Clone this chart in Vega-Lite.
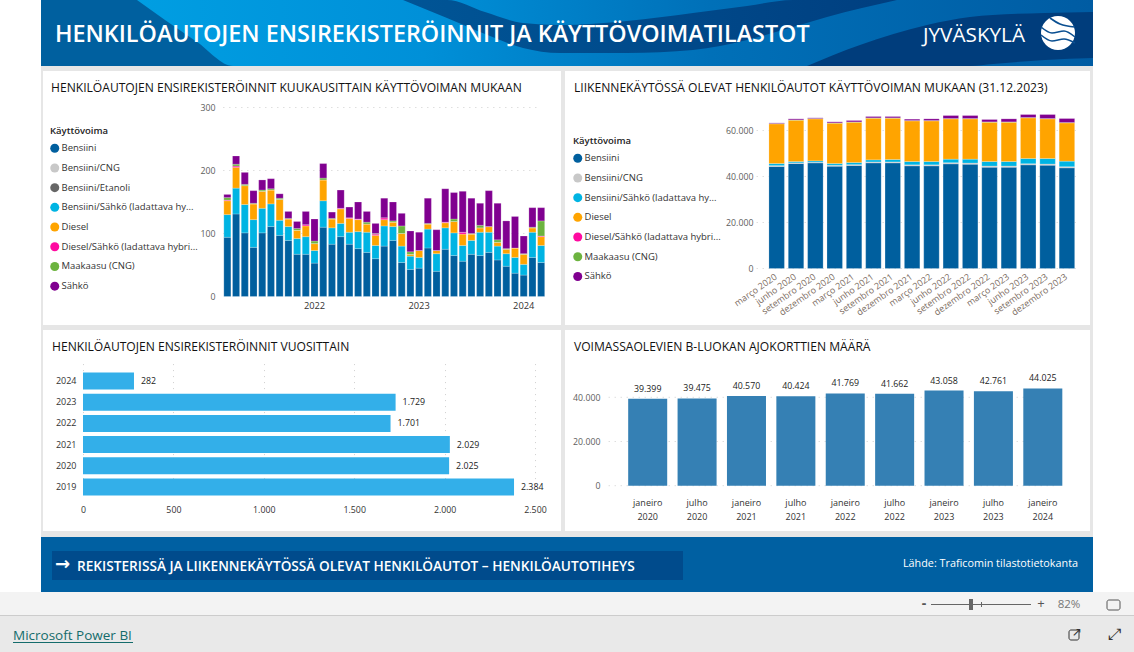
{
"$schema":"https://vega.github.io/schema/vega-lite/v6.json",
"background":"#e6e6e6","padding":0,"bounds":"full","spacing":0,
"config":{"font":"Open Sans","view":{"stroke":null},"axis":{"domain":false,"ticks":false,"title":null,"labelFont":"Open Sans","labelFlush":false,"gridColor":"#cfcfcf","gridDash":[1,5],"gridWidth":1},"legend":{"labelFont":"Open Sans","titleFont":"Open Sans"},"title":{"font":"Open Sans"}},
"datasets":{
"monthly":[
{"m":"2021-03","b":94,"h":36,"d":22,"dh":1,"mk":4,"s":5},
{"m":"2021-04","b":131,"h":41,"d":33,"dh":2,"mk":3,"s":13},
{"m":"2021-05","b":101,"h":45,"d":30,"dh":0,"mk":2,"s":19},
{"m":"2021-06","b":78,"h":44,"d":25,"dh":0,"mk":1,"s":20},
{"m":"2021-07","b":101,"h":39,"d":27,"dh":0,"mk":2,"s":16},
{"m":"2021-08","b":111,"h":36,"d":22,"dh":0,"mk":2,"s":16},
{"m":"2021-09","b":97,"h":24,"d":33,"dh":0,"mk":2,"s":7},
{"m":"2021-10","b":89,"h":22,"d":12,"dh":0,"mk":1,"s":11},
{"m":"2021-11","b":67,"h":25,"d":13,"dh":0,"mk":3,"s":11},
{"m":"2021-12","b":67,"h":28,"d":17,"dh":2,"mk":0,"s":21},
{"m":"2022-01","b":53,"h":20,"d":11,"dh":0,"mk":4,"s":35},
{"m":"2022-02","b":110,"h":42,"d":33,"dh":0,"mk":3,"s":23},
{"m":"2022-03","b":83,"h":26,"d":14,"dh":0,"mk":1,"s":10},
{"m":"2022-04","b":95,"h":21,"d":23,"dh":1,"mk":0,"s":29},
{"m":"2022-05","b":83,"h":19,"d":22,"dh":1,"mk":0,"s":17},
{"m":"2022-06","b":76,"h":27,"d":19,"dh":1,"mk":0,"s":27},
{"m":"2022-07","b":70,"h":32,"d":13,"dh":0,"mk":3,"s":17},
{"m":"2022-08","b":60,"h":21,"d":16,"dh":2,"mk":1,"s":16},
{"m":"2022-09","b":80,"h":32,"d":10,"dh":3,"mk":0,"s":31},
{"m":"2022-10","b":89,"h":22,"d":7,"dh":0,"mk":2,"s":30},
{"m":"2022-11","b":54,"h":26,"d":20,"dh":0,"mk":12,"s":20},
{"m":"2022-12","b":43,"h":21,"d":3,"dh":0,"mk":4,"s":33},
{"m":"2023-01","b":45,"h":17,"d":11,"dh":0,"mk":0,"s":29},
{"m":"2023-02","b":77,"h":30,"d":8,"dh":0,"mk":1,"s":40},
{"m":"2023-03","b":40,"h":28,"d":5,"dh":0,"mk":0,"s":33},
{"m":"2023-04","b":75,"h":34,"d":8,"dh":1,"mk":0,"s":53},
{"m":"2023-05","b":65,"h":36,"d":18,"dh":0,"mk":4,"s":42},
{"m":"2023-06","b":56,"h":25,"d":18,"dh":3,"mk":0,"s":65},
{"m":"2023-07","b":67,"h":22,"d":10,"dh":0,"mk":1,"s":56},
{"m":"2023-08","b":65,"h":37,"d":7,"dh":0,"mk":4,"s":35},
{"m":"2023-09","b":70,"h":32,"d":9,"dh":0,"mk":0,"s":57},
{"m":"2023-10","b":58,"h":22,"d":6,"dh":0,"mk":4,"s":58},
{"m":"2023-11","b":48,"h":20,"d":7,"dh":0,"mk":1,"s":44},
{"m":"2023-12","b":37,"h":25,"d":15,"dh":0,"mk":0,"s":50},
{"m":"2024-01","b":34,"h":17,"d":16,"dh":0,"mk":1,"s":28},
{"m":"2024-02","b":62,"h":40,"d":7,"dh":0,"mk":1,"s":31},
{"m":"2024-03","b":54,"h":27,"d":14,"dh":1,"mk":24,"s":21}
],
"traffic":[
{"q":"março 2020","b":44340,"cng":400,"h":900,"d":17260,"mk":150,"s":250},
{"q":"junho 2020","b":45640,"cng":300,"h":560,"d":17980,"mk":150,"s":430},
{"q":"setembro 2020","b":45930,"cng":300,"h":570,"d":18260,"mk":150,"s":290},
{"q":"dezembro 2020","b":44480,"cng":400,"h":760,"d":17540,"mk":150,"s":430},
{"q":"março 2021","b":44770,"cng":400,"h":910,"d":17520,"mk":150,"s":590},
{"q":"junho 2021","b":45930,"cng":400,"h":910,"d":18110,"mk":150,"s":570},
{"q":"setembro 2021","b":45930,"cng":400,"h":1050,"d":17970,"mk":150,"s":570},
{"q":"dezembro 2021","b":44630,"cng":450,"h":1430,"d":17680,"mk":150,"s":580},
{"q":"março 2022","b":44630,"cng":450,"h":1430,"d":17680,"mk":150,"s":720},
{"q":"junho 2022","b":45500,"cng":500,"h":1530,"d":17530,"mk":150,"s":1290},
{"q":"setembro 2022","b":45350,"cng":500,"h":1680,"d":17530,"mk":150,"s":1290},
{"q":"dezembro 2022","b":44050,"cng":500,"h":1960,"d":17090,"mk":150,"s":1020},
{"q":"março 2023","b":44050,"cng":500,"h":1960,"d":17090,"mk":150,"s":1310},
{"q":"junho 2023","b":45060,"cng":500,"h":2260,"d":17680,"mk":150,"s":1290},
{"q":"setembro 2023","b":44920,"cng":500,"h":2400,"d":17240,"mk":150,"s":1730},
{"q":"dezembro 2023","b":43760,"cng":500,"h":2400,"d":16660,"mk":150,"s":1730}
],
"yearly":[{"y":"2024","n":282},{"y":"2023","n":1729},{"y":"2022","n":1701},{"y":"2021","n":2029},{"y":"2020","n":2025},{"y":"2019","n":2384}],
"licences":[{"p":"janeiro|2020","n":39399},{"p":"julho|2020","n":39475},{"p":"janeiro|2021","n":40570},{"p":"julho|2021","n":40424},{"p":"janeiro|2022","n":41769},{"p":"julho|2022","n":41662},{"p":"janeiro|2023","n":43058},{"p":"julho|2023","n":42761},{"p":"janeiro|2024","n":44025}],
"waveBright":[{"a":137,"t":0,"u":0},{"a":165,"t":0,"u":20},{"a":197,"t":0,"u":42},{"a":233,"t":0,"u":66},{"a":1093,"t":0,"u":66}],
"waveDark":[{"a":403,"t":0,"u":0},{"a":447,"t":0,"u":18},{"a":485,"t":12,"u":34},{"a":523,"t":23,"u":48},{"a":560,"t":25,"u":53},{"a":627,"t":21,"u":53},{"a":693,"t":13,"u":50},{"a":747,"t":6,"u":40},{"a":793,"t":0,"u":27},{"a":827,"t":0,"u":17},{"a":897,"t":0,"u":0}],
"waveCorner":[{"a":807,"t":66,"u":66},{"a":860,"t":45,"u":66},{"a":927,"t":25,"u":66},{"a":970,"t":17,"u":66},{"a":993,"t":15,"u":64},{"a":1045,"t":13,"u":60},{"a":1093,"t":12,"u":58}],
"logoLines":[{"a":1041,"v":27,"l":"1"},{"a":1052,"v":33,"l":"1"},{"a":1064,"v":31,"l":"1"},{"a":1075,"v":37,"l":"1"},{"a":1041,"v":35,"l":"2"},{"a":1052,"v":41,"l":"2"},{"a":1064,"v":39,"l":"2"},{"a":1075,"v":43,"l":"2"},{"a":1050,"v":18,"l":"3"},{"a":1060,"v":24,"l":"3"},{"a":1075,"v":27,"l":"3"}]
},
"vconcat":[
{"hconcat":[
 {"width":41,"height":592,"data":{"values":[{}]},"mark":{"type":"rect","color":"#ffffff"}},
 {"spacing":0,"bounds":"full","vconcat":[
  {"width":1052,"height":66,"view":{"fill":"#00609f"},
   "layer":[
    {"data":{"name":"waveBright"},"mark":{"type":"area","interpolate":"monotone","color":{"gradient":"linear","x1":0,"x2":1,"y1":0,"y2":0,"stops":[{"offset":0,"color":"#009ee2"},{"offset":0.3,"color":"#0090d8"},{"offset":0.6,"color":"#0070b8"},{"offset":1,"color":"#005ca3"}]}},
     "encoding":{"x":{"field":"a","type":"quantitative","axis":null,"scale":{"domain":[41,1093],"nice":false,"zero":false}},"y":{"field":"t","type":"quantitative","axis":null,"scale":{"domain":[0,66],"range":[0,66],"nice":false,"zero":false}},"y2":{"field":"u"}}},
    {"data":{"name":"waveDark"},"mark":{"type":"area","interpolate":"monotone","color":{"gradient":"linear","x1":0,"x2":1,"y1":0,"y2":0,"stops":[{"offset":0,"color":"#005596"},{"offset":1,"color":"#003f80"}]}},
     "encoding":{"x":{"field":"a","type":"quantitative","axis":null},"y":{"field":"t","type":"quantitative","axis":null},"y2":{"field":"u"}}},
    {"data":{"name":"waveCorner"},"mark":{"type":"area","interpolate":"monotone","color":"#003d7c"},
     "encoding":{"x":{"field":"a","type":"quantitative","axis":null},"y":{"field":"t","type":"quantitative","axis":null},"y2":{"field":"u"}}},
    {"data":{"values":[{}]},"mark":{"type":"text","text":"HENKILÖAUTOJEN ENSIREKISTERÖINNIT JA KÄYTTÖVOIMATILASTOT","align":"left","baseline":"middle","color":"#ffffff","fontSize":23.35,"fontWeight":600},
     "encoding":{"x":{"datum":55,"type":"quantitative","axis":null},"y":{"datum":35,"type":"quantitative","axis":null}}},
    {"data":{"values":[{}]},"mark":{"type":"text","text":"JYVÄSKYLÄ","align":"left","baseline":"middle","color":"#ffffff","fontSize":20.7,"fontWeight":400},
     "encoding":{"x":{"datum":923,"type":"quantitative","axis":null},"y":{"datum":36,"type":"quantitative","axis":null}}},
    {"data":{"values":[{}]},"mark":{"type":"point","filled":true,"shape":"circle","size":1156,"color":"#ffffff","opacity":1},
     "encoding":{"x":{"datum":1058,"type":"quantitative","axis":null},"y":{"datum":33,"type":"quantitative","axis":null}}},
    {"data":{"name":"logoLines"},"mark":{"type":"line","interpolate":"monotone","color":"#0a4f91","strokeWidth":1.6},
     "encoding":{"x":{"field":"a","type":"quantitative","axis":null},"y":{"field":"v","type":"quantitative","axis":null},"detail":{"field":"l"}}}
   ]},
  {"width":10,"height":5,"data":{"values":[{}]},"mark":{"type":"rect","color":"#e6e6e6"}},
  {"spacing":0,"bounds":"flush","resolve":{"scale":{"color":"independent"},"legend":{"color":"independent"}},"hconcat":[
   {"width":2,"height":254,"data":{"values":[{}]},"mark":{"type":"rect","color":"#e6e6e6"}},
   {"width":518,"height":254,"view":{"fill":"#ffffff"},
    "title":{"text":"HENKILÖAUTOJEN ENSIREKISTERÖINNIT KUUKAUSITTAIN KÄYTTÖVOIMAN MUKAAN","anchor":"start","frame":"group","offset":-23,"dx":8,"fontSize":12.1,"fontWeight":400,"color":"#111111"},
    "layer":[
     {"data":{"values":[{"v":100},{"v":200},{"v":300}]},"mark":{"type":"rule","color":"#cfcfcf","strokeDash":[1,5],"strokeWidth":1,"xOffset":-4,"x2Offset":0},
      "encoding":{"y":{"field":"v","type":"quantitative","title":null},"x":{"datum":"2021-03","type":"nominal","title":null},"x2":{"datum":"2024-03"}}},
     {"data":{"name":"monthly"},
      "transform":[
       {"fold":["b","cng","et","h","d","dh","mk","s"],"as":["k","n"]},
       {"filter":"isValid(datum.n)"},
       {"calculate":"indexof(['b','cng','et','h','d','dh','mk','s'],datum.k)","as":"ord"},
       {"calculate":"['Bensiini','Bensiini/CNG','Bensiini/Etanoli','Bensiini/Sähkö (ladattava hybridi)','Diesel','Diesel/Sähkö (ladattava hybridi)','Maakaasu (CNG)','Sähkö'][datum.ord]","as":"fuel"}],
      "mark":{"type":"bar","stroke":"#ffffff","strokeWidth":0.5,"strokeOpacity":0.4},
      "encoding":{
       "x":{"field":"m","type":"nominal","title":null,"scale":{"type":"band","range":[180,502.5],"paddingInner":0.19,"paddingOuter":0.095},"axis":{"values":["2022-01","2023-01","2024-01"],"labelExpr":"slice(datum.value,0,4)","labelAngle":0,"labelAlign":"center","labelBaseline":"top","offset":-28.5,"labelPadding":5,"labelFontSize":9.3,"labelColor":"#333333","grid":false}},
       "y":{"field":"n","type":"quantitative","title":null,"stack":"zero","scale":{"domain":[0,300],"range":[225.5,36.5],"nice":false},"axis":{"values":[0,100,200,300],"offset":-180,"labelPadding":8,"labelFontSize":8.8,"labelColor":"#605e5c","grid":false}},
       "color":{"field":"fuel","type":"nominal","scale":{"domain":["Bensiini","Bensiini/CNG","Bensiini/Etanoli","Bensiini/Sähkö (ladattava hybridi)","Diesel","Diesel/Sähkö (ladattava hybridi)","Maakaasu (CNG)","Sähkö"],"range":["#005f9e","#c8c8c8","#666666","#00b4e3","#ffa400","#ff0aa0","#6cb33f","#800090"]},
         "legend":{"orient":"none","legendX":7,"legendY":55,"title":"Käyttövoima","symbolType":"circle","symbolSize":81,"symbolStrokeWidth":0,"labelLimit":200,"labelExpr":"indexof(datum.label,'Bensiini/S')==0?'Bensiini/Sähkö (ladattava hy...':indexof(datum.label,'Diesel/S')==0?'Diesel/Sähkö (ladattava hybri...':datum.label","labelOffset":2,"labelFontSize":9.5,"titleFontSize":9.5,"titleFontWeight":600,"titleColor":"#222222","labelColor":"#333333","rowPadding":8.7,"titlePadding":8}},
       "order":{"field":"ord","type":"quantitative","sort":"ascending"}
      }}
    ]},
   {"width":4,"height":254,"data":{"values":[{}]},"mark":{"type":"rect","color":"#e6e6e6"}},
   {"width":525,"height":254,"view":{"fill":"#ffffff"},
    "title":{"text":"LIIKENNEKÄYTÖSSÄ OLEVAT HENKILÖAUTOT KÄYTTÖVOIMAN MUKAAN (31.12.2023)","anchor":"start","frame":"group","offset":-23,"dx":9,"fontSize":12.1,"fontWeight":400,"color":"#111111"},
    "layer":[
     {"data":{"values":[{"v":0},{"v":20000},{"v":40000},{"v":60000}]},"mark":{"type":"rule","color":"#cfcfcf","strokeDash":[1,5],"strokeWidth":1,"xOffset":-20,"x2Offset":10},
      "encoding":{"y":{"field":"v","type":"quantitative","title":null},"x":{"datum":"março 2020","type":"nominal","title":null},"x2":{"datum":"dezembro 2023"}}},
     {"data":{"name":"traffic"},
      "transform":[
       {"fold":["b","cng","h","d","dh","mk","s"],"as":["k","n"]},
       {"filter":"isValid(datum.n)"},
       {"calculate":"indexof(['b','cng','h','d','dh','mk','s'],datum.k)","as":"ord"},
       {"calculate":"['Bensiini','Bensiini/CNG','Bensiini/Sähkö (ladattava hybridi)','Diesel','Diesel/Sähkö (ladattava hybridi)','Maakaasu (CNG)','Sähkö'][datum.ord]","as":"fuel"}],
      "mark":{"type":"bar","stroke":"#ffffff","strokeWidth":0.5,"strokeOpacity":0.4},
      "encoding":{
       "x":{"field":"q","type":"nominal","title":null,"scale":{"type":"band","domain":["março 2020","junho 2020","setembro 2020","dezembro 2020","março 2021","junho 2021","setembro 2021","dezembro 2021","março 2022","junho 2022","setembro 2022","dezembro 2022","março 2023","junho 2023","setembro 2023","dezembro 2023"],"range":[202,511.6],"paddingInner":0.2,"paddingOuter":0.1},"axis":{"labelAngle":-35,"labelAlign":"right","labelBaseline":"top","labelOffset":-3,"offset":-56,"labelPadding":3,"labelFontSize":9,"labelColor":"#7a6a60","labelOverlap":false,"grid":false}},
       "y":{"field":"n","type":"quantitative","title":null,"stack":"zero","scale":{"domain":[0,70000],"range":[197.5,36.5],"nice":false},"axis":{"values":[0,20000,40000,60000],"labelExpr":"replace(format(datum.value,','),',','.')","offset":-202,"labelPadding":14,"labelFontSize":8.8,"labelColor":"#605e5c","grid":false}},
       "color":{"field":"fuel","type":"nominal","scale":{"domain":["Bensiini","Bensiini/CNG","Bensiini/Sähkö (ladattava hybridi)","Diesel","Diesel/Sähkö (ladattava hybridi)","Maakaasu (CNG)","Sähkö"],"range":["#005f9e","#c8c8c8","#00b4e3","#ffa400","#ff0aa0","#6cb33f","#800090"]},
         "legend":{"orient":"none","legendX":8,"legendY":65,"title":"Käyttövoima","symbolType":"circle","symbolSize":81,"symbolStrokeWidth":0,"labelLimit":200,"labelExpr":"indexof(datum.label,'Bensiini/S')==0?'Bensiini/Sähkö (ladattava hy...':indexof(datum.label,'Diesel/S')==0?'Diesel/Sähkö (ladattava hybri...':datum.label","labelOffset":2,"labelFontSize":9.5,"titleFontSize":9.5,"titleFontWeight":600,"titleColor":"#222222","labelColor":"#333333","rowPadding":8.7,"titlePadding":8}},
       "order":{"field":"ord","type":"quantitative","sort":"ascending"}
      }}
    ]},
   {"width":3,"height":254,"data":{"values":[{}]},"mark":{"type":"rect","color":"#e6e6e6"}}
  ]},
  {"width":10,"height":5,"data":{"values":[{}]},"mark":{"type":"rect","color":"#e6e6e6"}},
  {"spacing":0,"bounds":"flush","hconcat":[
   {"width":2,"height":201,"data":{"values":[{}]},"mark":{"type":"rect","color":"#e6e6e6"}},
   {"width":518,"height":201,"view":{"fill":"#ffffff"},
    "title":{"text":"HENKILÖAUTOJEN ENSIREKISTERÖINNIT VUOSITTAIN","anchor":"start","frame":"group","offset":-23,"dx":9,"fontSize":12.1,"fontWeight":400,"color":"#111111"},
    "data":{"name":"yearly"},
    "transform":[{"calculate":"replace(format(datum.n,','),',','.')","as":"lab"}],
    "encoding":{
     "y":{"field":"y","type":"nominal","sort":null,"scale":{"type":"band","range":[40.4,167.6],"paddingInner":0.2,"paddingOuter":0.1},"axis":{"offset":-40,"labelPadding":7,"labelFontSize":9,"labelColor":"#333333","grid":false}},
     "x":{"field":"n","type":"quantitative","scale":{"domain":[0,2500],"range":[40,492],"nice":false},"axis":{"values":[0,500,1000,1500,2000,2500],"labelExpr":"replace(format(datum.value,','),',','.')","offset":-31,"labelPadding":5,"labelFontSize":8.8,"labelColor":"#333333","grid":true}}
    },
    "layer":[
     {"mark":{"type":"bar","color":"#33afe9"}},
     {"mark":{"type":"text","align":"left","baseline":"middle","dx":7,"fontSize":8.8,"color":"#222222"},"encoding":{"text":{"field":"lab"}}}
    ]},
   {"width":4,"height":201,"data":{"values":[{}]},"mark":{"type":"rect","color":"#e6e6e6"}},
   {"width":525,"height":201,"view":{"fill":"#ffffff"},
    "title":{"text":"VOIMASSAOLEVIEN B-LUOKAN AJOKORTTIEN MÄÄRÄ","anchor":"start","frame":"group","offset":-23,"dx":9,"fontSize":12.1,"fontWeight":400,"color":"#111111"},
    "layer":[
     {"data":{"values":[{"v":0},{"v":20000},{"v":40000}]},"mark":{"type":"rule","color":"#cfcfcf","strokeDash":[1,5],"strokeWidth":1,"xOffset":-39,"x2Offset":13},
      "encoding":{"y":{"field":"v","type":"quantitative","title":null},"x":{"datum":"janeiro|2020","type":"nominal","title":null},"x2":{"datum":"janeiro|2024"}}},
     {"data":{"name":"licences"},"mark":{"type":"bar","color":"#3580b4"},
      "encoding":{
       "x":{"field":"p","type":"nominal","title":null,"scale":{"type":"band","domain":["janeiro|2020","julho|2020","janeiro|2021","julho|2021","janeiro|2022","julho|2022","janeiro|2023","julho|2023","janeiro|2024"],"range":[58,502.5],"paddingInner":0.21,"paddingOuter":0.105},"axis":{"labelAngle":0,"labelAlign":"center","labelBaseline":"top","labelExpr":"split(datum.value,'|')","offset":-45.3,"labelPadding":13,"labelFontSize":9,"labelLineHeight":13.5,"labelColor":"#333333","grid":false}},
       "y":{"field":"n","type":"quantitative","title":null,"scale":{"domain":[0,50000],"range":[155.7,45.2],"nice":false},"axis":{"values":[0,20000,40000],"labelExpr":"replace(format(datum.value,','),',','.')","offset":-43,"labelPadding":8,"labelFontSize":8.8,"labelColor":"#605e5c","grid":false}}
      }},
     {"data":{"name":"licences"},"transform":[{"calculate":"replace(format(datum.n,','),',','.')","as":"lab"}],
      "mark":{"type":"text","baseline":"bottom","dy":-5,"fontSize":8.8,"color":"#222222"},
      "encoding":{"x":{"field":"p","type":"nominal","title":null},"y":{"field":"n","type":"quantitative","title":null},"text":{"field":"lab"}}}
    ]},
   {"width":3,"height":201,"data":{"values":[{}]},"mark":{"type":"rect","color":"#e6e6e6"}}
  ]},
  {"width":10,"height":6,"data":{"values":[{}]},"mark":{"type":"rect","color":"#e6e6e6"}},
  {"width":1052,"height":55,"view":{"fill":"#0060a2"},
   "data":{"values":[{}]},
   "layer":[
    {"mark":{"type":"rect","color":"#004b8c"},
     "encoding":{"x":{"datum":52,"type":"quantitative","axis":null,"scale":{"domain":[41,1093],"nice":false,"zero":false}},"x2":{"datum":683},"y":{"datum":551,"type":"quantitative","axis":null,"scale":{"domain":[537,592],"range":[0,55],"nice":false,"zero":false}},"y2":{"datum":580}}},
    {"mark":{"type":"text","text":"→","align":"left","baseline":"middle","color":"#ffffff","fontSize":18,"fontWeight":700,"font":"DejaVu Sans"},
     "encoding":{"x":{"datum":55,"type":"quantitative","axis":null},"y":{"datum":565,"type":"quantitative","axis":null}}},
    {"mark":{"type":"text","text":"REKISTERISSÄ JA LIIKENNEKÄYTÖSSÄ OLEVAT HENKILÖAUTOT – HENKILÖAUTOTIHEYS","align":"left","baseline":"middle","color":"#ffffff","fontSize":13.65,"fontWeight":600},
     "encoding":{"x":{"datum":77,"type":"quantitative","axis":null},"y":{"datum":567,"type":"quantitative","axis":null}}},
    {"mark":{"type":"text","text":"Lähde: Traficomin tilastotietokanta","align":"right","baseline":"middle","color":"#ffffff","fontSize":10.8},
     "encoding":{"x":{"datum":1078,"type":"quantitative","axis":null},"y":{"datum":564,"type":"quantitative","axis":null}}}
   ]}
 ]},
 {"width":41,"height":592,"data":{"values":[{}]},"mark":{"type":"rect","color":"#ffffff"}}
],"spacing":0,"bounds":"full","resolve":{"scale":{"color":"independent"},"legend":{"color":"independent"}}},
{"width":1134,"height":60,"view":{"fill":"#e9e9e9"},
 "data":{"values":[{}]},
 "layer":[
  {"mark":{"type":"rect","color":"#f3f3f3"},"encoding":{"x":{"datum":0,"type":"quantitative","axis":null,"scale":{"domain":[0,1134],"nice":false,"zero":false}},"x2":{"datum":1134},"y":{"datum":592,"type":"quantitative","axis":null,"scale":{"domain":[592,652],"range":[0,60],"nice":false,"zero":false}},"y2":{"datum":615}}},
  {"mark":{"type":"rect","color":"#cccccc"},"encoding":{"x":{"datum":0,"type":"quantitative","axis":null},"x2":{"datum":1134},"y":{"datum":615,"type":"quantitative","axis":null},"y2":{"datum":616}}},
  {"mark":{"type":"rect","color":"#666666"},"encoding":{"x":{"datum":931,"type":"quantitative","axis":null},"x2":{"datum":1031},"y":{"datum":604,"type":"quantitative","axis":null},"y2":{"datum":605}}},
  {"mark":{"type":"rect","color":"#666666"},"encoding":{"x":{"datum":969,"type":"quantitative","axis":null},"x2":{"datum":973},"y":{"datum":599,"type":"quantitative","axis":null},"y2":{"datum":610}}},
  {"mark":{"type":"rect","color":"#666666"},"encoding":{"x":{"datum":981,"type":"quantitative","axis":null},"x2":{"datum":982},"y":{"datum":602,"type":"quantitative","axis":null},"y2":{"datum":607}}},
  {"mark":{"type":"text","text":"-","fontSize":14,"color":"#555555","baseline":"middle","fontWeight":700},"encoding":{"x":{"datum":924,"type":"quantitative","axis":null},"y":{"datum":604,"type":"quantitative","axis":null}}},
  {"mark":{"type":"text","text":"+","fontSize":13,"color":"#555555","baseline":"middle"},"encoding":{"x":{"datum":1041,"type":"quantitative","axis":null},"y":{"datum":604,"type":"quantitative","axis":null}}},
  {"mark":{"type":"text","text":"82%","fontSize":11.5,"color":"#767676","baseline":"middle"},"encoding":{"x":{"datum":1069,"type":"quantitative","axis":null},"y":{"datum":605,"type":"quantitative","axis":null}}},
  {"mark":{"type":"rect","fill":null,"stroke":"#555555","strokeWidth":1,"cornerRadius":2},"encoding":{"x":{"datum":1107,"type":"quantitative","axis":null},"x2":{"datum":1120},"y":{"datum":600,"type":"quantitative","axis":null},"y2":{"datum":610}}},
  {"mark":{"type":"text","text":"Microsoft Power BI","fontSize":13.5,"color":"#146c6c","baseline":"middle","align":"left"},"encoding":{"x":{"datum":13,"type":"quantitative","axis":null},"y":{"datum":636,"type":"quantitative","axis":null}}},
  {"mark":{"type":"rect","color":"#146c6c"},"encoding":{"x":{"datum":13,"type":"quantitative","axis":null},"x2":{"datum":133},"y":{"datum":642,"type":"quantitative","axis":null},"y2":{"datum":643}}},
  {"mark":{"type":"rect","fill":null,"stroke":"#333333","strokeWidth":1,"cornerRadius":2},"encoding":{"x":{"datum":1069,"type":"quantitative","axis":null},"x2":{"datum":1079},"y":{"datum":630,"type":"quantitative","axis":null},"y2":{"datum":640}}},
  {"mark":{"type":"text","text":"↗","fontSize":12,"color":"#333333","baseline":"middle","font":"DejaVu Sans"},"encoding":{"x":{"datum":1077,"type":"quantitative","axis":null},"y":{"datum":632,"type":"quantitative","axis":null}}},
  {"mark":{"type":"text","text":"⤢","fontSize":16,"color":"#333333","baseline":"middle","font":"DejaVu Sans"},"encoding":{"x":{"datum":1114,"type":"quantitative","axis":null},"y":{"datum":635,"type":"quantitative","axis":null}}}
 ]}
],
"resolve":{"scale":{"color":"independent"},"legend":{"color":"independent"}}
}
